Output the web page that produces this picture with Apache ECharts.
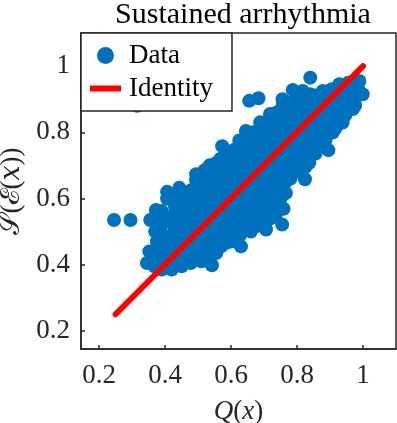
<!DOCTYPE html>
<html>
<head>
<meta charset="utf-8">
<script src="https://cdn.jsdelivr.net/npm/echarts@6/dist/echarts.min.js"></script>
<style>
  html, body { margin: 0; padding: 0; background: #fff; }
  #chart { width: 397px; height: 423px; }
</style>
</head>
<body>
<div id="chart"></div>
<script>
// values: [Q(x), S(E(x))]
const outliers = [
  [0.245, 0.535], [0.295, 0.535], [0.355, 0.535], [0.315, 0.88],
  [0.84, 0.965], [0.655, 0.895], [0.683, 0.903], [0.645, 0.804], [0.573, 0.758]
]
// edge and body of the main cloud, column by column
const cloudA = [
  [0.345, 0.405], [0.352, 0.44],
  [0.368, 0.395], [0.372, 0.43], [0.375, 0.47], [0.37, 0.50], [0.372, 0.565],
  [0.39, 0.385], [0.395, 0.42], [0.40, 0.455], [0.393, 0.49], [0.398, 0.53], [0.39, 0.562], [0.385, 0.545], [0.406, 0.60], [0.406, 0.62],
  [0.42, 0.385], [0.425, 0.415], [0.418, 0.45], [0.422, 0.48], [0.428, 0.51], [0.42, 0.545], [0.43, 0.575], [0.432, 0.60],
  [0.443, 0.632], [0.45, 0.395], [0.455, 0.43], [0.447, 0.46], [0.452, 0.49], [0.458, 0.52], [0.45, 0.555], [0.46, 0.585], [0.455, 0.61],
  [0.478, 0.405], [0.485, 0.42], [0.48, 0.445], [0.484, 0.475], [0.478, 0.505], [0.488, 0.535], [0.48, 0.565], [0.486, 0.595], [0.479, 0.625], [0.494, 0.655], [0.494, 0.673],
  [0.51, 0.41], [0.515, 0.44], [0.508, 0.47], [0.512, 0.50], [0.518, 0.53], [0.51, 0.56], [0.516, 0.59], [0.508, 0.62], [0.514, 0.65], [0.52, 0.685],
  [0.542, 0.398], [0.538, 0.43], [0.545, 0.46], [0.54, 0.49], [0.548, 0.52], [0.54, 0.55], [0.546, 0.58], [0.538, 0.61], [0.544, 0.64], [0.54, 0.67], [0.535, 0.70],
  [0.555, 0.435], [0.57, 0.455], [0.568, 0.485], [0.575, 0.515], [0.566, 0.545], [0.572, 0.575], [0.568, 0.605], [0.575, 0.635], [0.565, 0.665], [0.572, 0.695], [0.568, 0.72],
  [0.60, 0.47], [0.605, 0.50], [0.598, 0.53], [0.604, 0.56], [0.596, 0.59], [0.602, 0.62], [0.598, 0.65], [0.606, 0.68], [0.60, 0.71], [0.592, 0.74],
  [0.63, 0.455], [0.628, 0.49], [0.634, 0.52], [0.626, 0.55], [0.632, 0.58], [0.628, 0.61], [0.636, 0.64], [0.626, 0.67], [0.632, 0.70], [0.628, 0.73], [0.625, 0.775],
  [0.66, 0.50], [0.664, 0.53], [0.656, 0.56], [0.662, 0.59], [0.668, 0.62], [0.658, 0.65], [0.664, 0.68], [0.656, 0.71], [0.662, 0.74], [0.655, 0.77],
  [0.676, 0.516], [0.69, 0.545], [0.695, 0.575], [0.688, 0.605], [0.694, 0.635], [0.686, 0.665], [0.692, 0.695], [0.688, 0.725], [0.696, 0.755], [0.686, 0.785], [0.688, 0.83],
  [0.706, 0.506], [0.72, 0.54], [0.716, 0.57], [0.722, 0.60], [0.718, 0.63], [0.726, 0.66], [0.716, 0.69], [0.722, 0.72], [0.718, 0.75], [0.724, 0.78], [0.716, 0.81], [0.718, 0.855],
  [0.755, 0.521], [0.759, 0.569], [0.75, 0.60], [0.745, 0.63], [0.752, 0.66], [0.746, 0.69], [0.754, 0.72], [0.748, 0.75], [0.752, 0.78], [0.745, 0.81], [0.75, 0.84], [0.756, 0.88], [0.756, 0.90],
  [0.777, 0.678], [0.78, 0.66], [0.782, 0.70], [0.776, 0.73], [0.784, 0.76], [0.778, 0.79], [0.782, 0.82], [0.776, 0.85], [0.784, 0.88], [0.787, 0.928],
  [0.81, 0.68], [0.824, 0.658], [0.806, 0.71], [0.812, 0.74], [0.808, 0.77], [0.814, 0.80], [0.806, 0.83], [0.812, 0.86], [0.808, 0.89], [0.817, 0.925],
  [0.837, 0.708], [0.84, 0.74], [0.845, 0.77], [0.838, 0.80], [0.844, 0.83], [0.836, 0.86], [0.842, 0.89], [0.84, 0.915],
  [0.858, 0.758], [0.87, 0.78], [0.872, 0.81], [0.866, 0.84], [0.874, 0.87], [0.868, 0.90], [0.878, 0.925],
  [0.895, 0.746], [0.908, 0.799], [0.90, 0.82], [0.896, 0.85], [0.904, 0.88], [0.898, 0.91], [0.905, 0.93],
  [0.938, 0.829], [0.93, 0.86], [0.926, 0.89], [0.934, 0.915], [0.928, 0.945],
  [0.969, 0.87], [0.96, 0.88], [0.958, 0.905], [0.962, 0.93], [0.955, 0.95],
  [0.989, 0.955], [0.999, 0.915], [0.985, 0.93], [0.975, 0.90]
]
// points filling the dense middle of the cloud
const cloudB = [
  [0.384, 0.41], [0.388, 0.47], [0.386, 0.515],
  [0.436, 0.402], [0.433, 0.437], [0.438, 0.466], [0.435, 0.497], [0.437, 0.526], [0.432, 0.561], [0.44, 0.592],
  [0.466, 0.412], [0.463, 0.441], [0.468, 0.472], [0.464, 0.503], [0.47, 0.532], [0.466, 0.561], [0.469, 0.592], [0.467, 0.618],
  [0.497, 0.428], [0.493, 0.457], [0.498, 0.488], [0.495, 0.521], [0.499, 0.549], [0.494, 0.582], [0.5, 0.611], [0.497, 0.642],
  [0.526, 0.423], [0.524, 0.456], [0.528, 0.487], [0.523, 0.514], [0.529, 0.546], [0.525, 0.574], [0.527, 0.606], [0.522, 0.636], [0.528, 0.664],
  [0.556, 0.468], [0.553, 0.502], [0.558, 0.531], [0.554, 0.562], [0.557, 0.589], [0.552, 0.621], [0.558, 0.652], [0.555, 0.679], [0.553, 0.706],
  [0.586, 0.466], [0.583, 0.497], [0.588, 0.524], [0.584, 0.556], [0.587, 0.586], [0.582, 0.614], [0.588, 0.646], [0.584, 0.674], [0.587, 0.703], [0.583, 0.731],
  [0.616, 0.482], [0.613, 0.511], [0.618, 0.541], [0.614, 0.571], [0.617, 0.599], [0.612, 0.632], [0.618, 0.661], [0.614, 0.689], [0.616, 0.721], [0.612, 0.749],
  [0.646, 0.505], [0.643, 0.536], [0.648, 0.566], [0.644, 0.594], [0.647, 0.626], [0.642, 0.655], [0.648, 0.686], [0.644, 0.714], [0.646, 0.744], [0.641, 0.776],
  [0.676, 0.532], [0.673, 0.561], [0.678, 0.589], [0.674, 0.621], [0.677, 0.651], [0.672, 0.679], [0.678, 0.712], [0.674, 0.741], [0.676, 0.769], [0.671, 0.801],
  [0.706, 0.531], [0.703, 0.562], [0.708, 0.591], [0.704, 0.619], [0.707, 0.652], [0.702, 0.681], [0.708, 0.709], [0.704, 0.741], [0.706, 0.771], [0.702, 0.799], [0.706, 0.832],
  [0.736, 0.552], [0.733, 0.584], [0.738, 0.616], [0.734, 0.644], [0.737, 0.676], [0.732, 0.704], [0.738, 0.736], [0.734, 0.766], [0.736, 0.794], [0.732, 0.826], [0.737, 0.859],
  [0.766, 0.616], [0.763, 0.646], [0.768, 0.674], [0.764, 0.706], [0.767, 0.736], [0.762, 0.764], [0.768, 0.796], [0.764, 0.826], [0.766, 0.854], [0.763, 0.884],
  [0.796, 0.686], [0.793, 0.716], [0.798, 0.744], [0.794, 0.776], [0.797, 0.806], [0.792, 0.834], [0.798, 0.866], [0.794, 0.894], [0.796, 0.914],
  [0.826, 0.696], [0.823, 0.726], [0.828, 0.754], [0.824, 0.786], [0.827, 0.816], [0.822, 0.844], [0.828, 0.876], [0.824, 0.904],
  [0.856, 0.736], [0.853, 0.766], [0.858, 0.794], [0.854, 0.826], [0.857, 0.856], [0.852, 0.884], [0.856, 0.911],
  [0.886, 0.776], [0.883, 0.806], [0.888, 0.834], [0.884, 0.866], [0.887, 0.896], [0.882, 0.919],
  [0.916, 0.811], [0.913, 0.841], [0.918, 0.869], [0.914, 0.901], [0.916, 0.924],
  [0.946, 0.851], [0.943, 0.876], [0.948, 0.906], [0.944, 0.931],
  [0.976, 0.881], [0.973, 0.924], [0.978, 0.944]
]
const identityLine = [[0.25, 0.25], [1, 1]]
const xTicks = [0.2, 0.4, 0.6, 0.8, 1]
const yTicks = [0.2, 0.4, 0.6, 0.8, 1]

const serif = "'Liberation Serif', 'DejaVu Serif', serif"
const textColor = '#262626'

const chart = echarts.init(document.getElementById('chart'))

const axisCommon = {
  type: 'value',
  min: 0.145,
  max: 1.1,
  axisLine: { show: true, lineStyle: { color: textColor, width: 1.5 } },
  axisTick: { show: true, inside: true, length: 4, lineStyle: { color: textColor, width: 1.5 } },
  splitLine: { show: false },
  nameLocation: 'middle',
}

chart.setOption({
  animation: false,
  title: {
    text: 'Sustained arrhythmia',
    left: 238,
    textAlign: 'center',
    top: -5,
    textStyle: { fontFamily: serif, fontWeight: 'normal', fontSize: 30, color: '#000' },
  },
  grid: {
    left: 81, right: 1, top: 33, bottom: 74,
    outerBoundsMode: 'none',
    containLabel: false,
    show: true,
    borderColor: textColor,
    borderWidth: 1.5,
    backgroundColor: '#fff',
  },
  legend: {
    left: 81,
    top: 33,
    orient: 'vertical',
    itemWidth: 31,
    itemHeight: 17,
    itemGap: 6,
    padding: [9, 19, 9, 9],
    backgroundColor: '#fff',
    borderColor: textColor,
    borderWidth: 1.5,
    z: 10,
    data: [
      { name: 'Data', icon: 'circle' },
      // thick red bar, centred in the icon box
      { name: 'Identity', icon: 'path://M0,0L0.01,0L0.01,0.01ZM0,5.5H31V11.5H0ZM0,17L0.01,17L0.01,16.99Z' },
    ],
    textStyle: { fontFamily: serif, fontSize: 27, color: '#000', lineHeight: 27, padding: [0, 0, 0, 3] },
  },
  xAxis: {
    ...axisCommon,
    name: '{i|Q}({i|x})',
    nameGap: 49,
    nameTextStyle: {
      fontFamily: serif, fontSize: 27, color: textColor,
      rich: { i: { fontFamily: serif, fontStyle: 'italic', fontSize: 27, color: textColor } },
    },
    axisTick: { ...axisCommon.axisTick, customValues: xTicks },
    axisLabel: { customValues: xTicks, margin: 13, fontFamily: serif, fontSize: 27, color: textColor },
  },
  yAxis: {
    ...axisCommon,
    name: '𝒮(ℰ(𝑥))',
    nameGap: 52,
    nameTextStyle: { fontFamily: serif, fontSize: 27, color: textColor },
    axisTick: { ...axisCommon.axisTick, customValues: yTicks },
    axisLabel: { customValues: yTicks, margin: 11, fontFamily: serif, fontSize: 27, color: textColor },
  },
  series: [
    {
      name: 'Data',
      type: 'scatter',
      data: outliers.concat(cloudA, cloudB),
      symbol: 'circle',
      symbolSize: 14,
      itemStyle: { color: '#0072BD', opacity: 1 },
      z: 2,
    },
    {
      name: 'Identity',
      type: 'line',
      data: identityLine,
      symbol: 'none',
      lineStyle: { color: '#FF0000', width: 6, cap: 'round' },
      itemStyle: { color: '#FF0000' },
      z: 3,
    },
  ],
})
</script>
</body>
</html>
